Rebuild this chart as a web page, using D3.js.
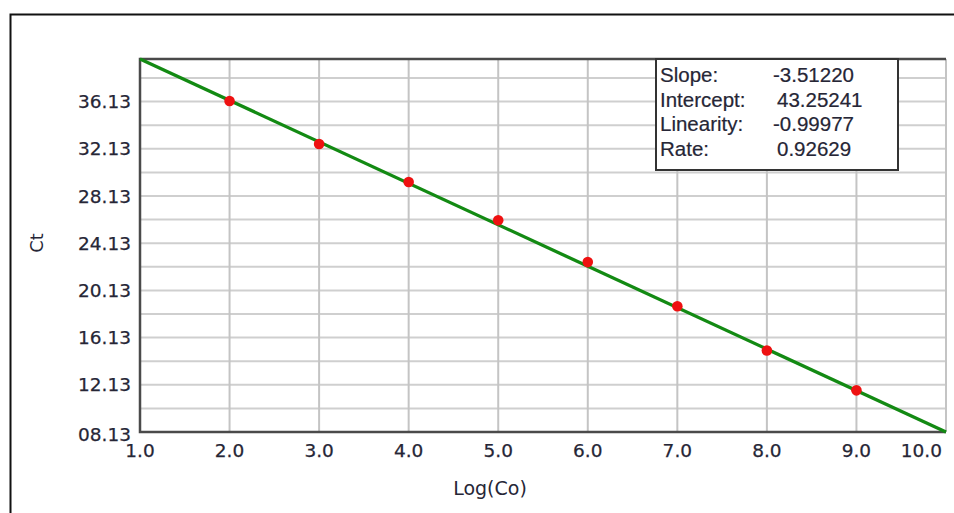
<!DOCTYPE html>
<html>
<head>
<meta charset="utf-8">
<script src="https://cdn.jsdelivr.net/npm/d3@7"></script>
<style>
  html, body { margin: 0; padding: 0; background: #fff; }
  svg { display: block; }
</style>
</head>
<body>
<svg id="chart" width="954" height="513"></svg>
<script>
// ---- Data ----
const logCo = [2, 3, 4, 5, 6, 7, 8, 9];
const ctValues = [36.18, 32.54, 29.32, 26.08, 22.53, 18.79, 15.04, 11.66];
const xTicks = [1, 2, 3, 4, 5, 6, 7, 8, 9, 10];
const yTicks = [8.13, 12.13, 16.13, 20.13, 24.13, 28.13, 32.13, 36.13];
const yGrid = [10.13, 12.13, 14.13, 16.13, 18.13, 20.13, 22.13, 24.13, 26.13, 28.13, 30.13, 32.13, 34.13, 36.13, 38.13];
const statLabels = ["Slope:", "Intercept:", "Linearity:", "Rate:"];
const statValues = ["-3.51220", "43.25241", "-0.99977", "0.92629"];
const slope = -3.51220;
const intercept = 43.25241;
const fitX = [1, 10];

// ---- Layout ----
const svg = d3.select("#chart");
const pL = 140, pR = 946, pT = 59, pB = 432;
const x = d3.scaleLinear().domain([1, 10]).range([pL, pR]);
const y = d3.scaleLinear().domain([slope * 10 + intercept, slope * 1 + intercept]).range([pB, pT]);
const textColor = "#262636";

// outer frame
svg.append("path")
  .attr("d", `M10.5,513 L10.5,14.5 L954,14.5`)
  .attr("fill", "none").attr("stroke", "#111").attr("stroke-width", 2);

// grid
const g = svg.append("g");
g.selectAll("line.hg").data(yGrid).join("line")
  .attr("x1", pL).attr("x2", pR)
  .attr("y1", d => y(d)).attr("y2", d => y(d))
  .attr("stroke", "#cfcfcf").attr("stroke-width", 2);
g.selectAll("line.vg").data(xTicks.slice(1)).join("line")
  .attr("y1", pT).attr("y2", pB)
  .attr("x1", d => x(d)).attr("x2", d => x(d))
  .attr("stroke", "#c4c4c4").attr("stroke-width", 2);

// axes border (left, top, bottom)
svg.append("path")
  .attr("d", `M${pR},${pT} L${pL},${pT} L${pL},${pB} L${pR},${pB}`)
  .attr("fill", "none").attr("stroke", "#4a4a4a").attr("stroke-width", 2.5);

// tick labels
const fmtY = d => { const s = d.toFixed(2); return d < 10 ? "0" + s : s; };
svg.append("g").selectAll("text").data(yTicks).join("text")
  .attr("x", pL - 9).attr("y", d => y(d) + (d === yTicks[0] ? 2 : 0))
  .attr("dy", "0.36em").attr("text-anchor", "end")
  .attr("font-family", "DejaVu Sans").attr("font-size", 18.5)
  .attr("fill", textColor).attr("stroke", textColor).attr("stroke-width", 0.25)
  .text(fmtY);

svg.append("g").selectAll("text").data(xTicks).join("text")
  .attr("x", (d, i) => i === xTicks.length - 1 ? pR - 4 : x(d))
  .attr("y", pB + 18)
  .attr("dy", "0.36em")
  .attr("text-anchor", (d, i) => i === xTicks.length - 1 ? "end" : "middle")
  .attr("font-family", "DejaVu Sans").attr("font-size", 18.5)
  .attr("fill", textColor).attr("stroke", textColor).attr("stroke-width", 0.25)
  .text(d => d.toFixed(1));

// axis titles
svg.append("text")
  .attr("x", 490).attr("y", 488).attr("dy", "0.36em")
  .attr("text-anchor", "middle")
  .attr("font-family", "DejaVu Sans").attr("font-size", 19)
  .attr("fill", textColor).text("Log(Co)");
svg.append("text")
  .attr("transform", "translate(37,243) rotate(-90)")
  .attr("dy", "0.36em").attr("text-anchor", "middle")
  .attr("font-family", "DejaVu Sans").attr("font-size", 18)
  .attr("fill", textColor).text("Ct");

// fit line
const line = d3.line().x(d => x(d)).y(d => y(slope * d + intercept));
svg.append("path").datum(fitX)
  .attr("d", line).attr("fill", "none")
  .attr("stroke", "#138a13").attr("stroke-width", 3.3);

// data points
svg.append("g").selectAll("circle").data(logCo).join("circle")
  .attr("cx", d => x(d)).attr("cy", (d, i) => y(ctValues[i]))
  .attr("r", 5.3).attr("fill", "#ee1111");

// stats box
const bx = 656, by = 59, bw = 242, bh = 111;
svg.append("rect").attr("x", bx).attr("y", by).attr("width", bw).attr("height", bh)
  .attr("fill", "#fff").attr("stroke", "#333").attr("stroke-width", 2);
const sg = svg.append("g").attr("font-family", "Liberation Sans").attr("font-size", 20.5)
  .attr("fill", textColor).attr("stroke", textColor).attr("stroke-width", 0.2);
sg.selectAll("text.l").data(statLabels).join("text")
  .attr("x", bx + 4).attr("y", (d, i) => by + 23 + i * 24.5).text(d => d);
sg.selectAll("text.v").data(statValues).join("text")
  .attr("x", (d, i) => bx + (d[0] === "-" ? 117 : 121))
  .attr("y", (d, i) => by + 23 + i * 24.5).text(d => d);
</script>
</body>
</html>
